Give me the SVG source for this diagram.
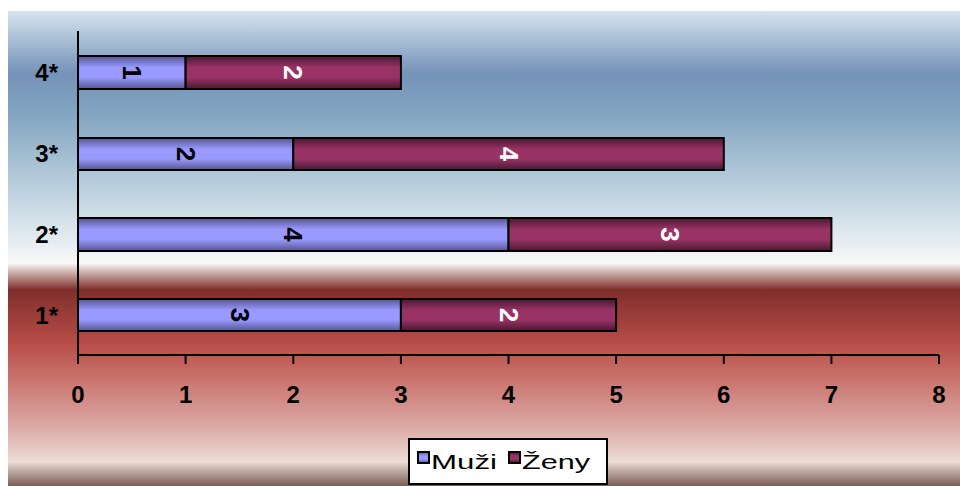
<svg xmlns="http://www.w3.org/2000/svg" width="960" height="486" viewBox="0 0 960 486">
<defs>
<linearGradient id="bg" x1="0" y1="0" x2="0" y2="1">
<stop offset="0" stop-color="#d6e4f0"/>
<stop offset="0.131" stop-color="#7592b8"/>
<stop offset="0.208" stop-color="#80a3c0"/>
<stop offset="0.349" stop-color="#b2c9d9"/>
<stop offset="0.488" stop-color="#e6edf2"/>
<stop offset="0.531" stop-color="#f8f8f8"/>
<stop offset="0.548" stop-color="#d2b8b4"/>
<stop offset="0.587" stop-color="#7f2e2b"/>
<stop offset="0.699" stop-color="#b84d48"/>
<stop offset="0.771" stop-color="#c9716b"/>
<stop offset="0.876" stop-color="#dcaaa5"/>
<stop offset="0.949" stop-color="#ecdcd5"/>
<stop offset="0.966" stop-color="#c4b0a9"/>
<stop offset="1" stop-color="#7a5c55"/>
</linearGradient>
<linearGradient id="gBlue" x1="0" y1="0" x2="0" y2="1">
<stop offset="0" stop-color="#55558f"/>
<stop offset="0.35" stop-color="#9999ff"/>
<stop offset="0.65" stop-color="#9999ff"/>
<stop offset="1" stop-color="#55558f"/>
</linearGradient>
<linearGradient id="gRed" x1="0" y1="0" x2="0" y2="1">
<stop offset="0" stop-color="#4a1830"/>
<stop offset="0.35" stop-color="#993366"/>
<stop offset="0.65" stop-color="#993366"/>
<stop offset="1" stop-color="#4a1830"/>
</linearGradient>
<style>
.blue{fill:url(#gBlue);stroke:#000;stroke-width:2}
.red{fill:url(#gRed);stroke:#000;stroke-width:2}
.ax{stroke:#000;stroke-width:2;fill:none}
.tk{font-family:"Liberation Sans",Arial,sans-serif;font-weight:bold;font-size:24px;fill:#000;text-anchor:middle}
.cat{font-family:"Liberation Sans",Arial,sans-serif;font-weight:bold;font-size:24px;fill:#000;text-anchor:end}
.vl{font-family:"Liberation Sans",Arial,sans-serif;font-weight:bold;font-size:26px;text-anchor:middle;dominant-baseline:central}
.lg{font-family:"Liberation Sans",Arial,sans-serif;font-size:21px;fill:#000}
</style>
</defs>
<rect x="0" y="0" width="960" height="486" fill="#ffffff"/>
<rect x="8" y="11" width="952" height="475" fill="url(#bg)"/>

<g id="axes">
<path class="ax" d="M78,31 V364 M78,355 H939 M185.6,355 V364 M293.3,355 V364 M400.9,355 V364 M508.5,355 V364 M616.1,355 V364 M723.8,355 V364 M831.4,355 V364 M939,355 V364"/>
<text class="tk" x="78" y="403">0</text>
<text class="tk" x="185.6" y="403">1</text>
<text class="tk" x="293.3" y="403">2</text>
<text class="tk" x="400.9" y="403">3</text>
<text class="tk" x="508.5" y="403">4</text>
<text class="tk" x="616.1" y="403">5</text>
<text class="tk" x="723.8" y="403">6</text>
<text class="tk" x="831.4" y="403">7</text>
<text class="tk" x="939" y="403">8</text>
<text class="cat" x="58" y="81">4*</text>
<text class="cat" x="58" y="162">3*</text>
<text class="cat" x="58" y="243">2*</text>
<text class="cat" x="58" y="324">1*</text>
</g>

<g id="bar-4">
<rect class="blue" x="78" y="56" width="107.6" height="33"/>
<rect class="red" x="185.6" y="56" width="215.3" height="33"/>
<text class="vl" fill="#000" transform="translate(131.8,72.5) rotate(90)">1</text>
<text class="vl" fill="#fff" transform="translate(293.3,72.5) rotate(90)">2</text>
</g>
<g id="bar-3">
<rect class="blue" x="78" y="138" width="215.3" height="32"/>
<rect class="red" x="293.3" y="138" width="430.5" height="32"/>
<text class="vl" fill="#000" transform="translate(185.6,154) rotate(90)">2</text>
<text class="vl" fill="#fff" transform="translate(508.5,154) rotate(90)">4</text>
</g>
<g id="bar-2">
<rect class="blue" x="78" y="218" width="430.5" height="33"/>
<rect class="red" x="508.5" y="218" width="322.9" height="33"/>
<text class="vl" fill="#000" transform="translate(293.3,234.5) rotate(90)">4</text>
<text class="vl" fill="#fff" transform="translate(670,234.5) rotate(90)">3</text>
</g>
<g id="bar-1">
<rect class="blue" x="78" y="299" width="322.9" height="32"/>
<rect class="red" x="400.9" y="299" width="215.2" height="32"/>
<text class="vl" fill="#000" transform="translate(239.5,315) rotate(90)">3</text>
<text class="vl" fill="#fff" transform="translate(508.5,315) rotate(90)">2</text>
</g>

<g id="legend">
<rect x="409" y="439" width="198" height="45" fill="#fff" stroke="#000" stroke-width="2"/>
<rect class="blue" x="418" y="452" width="11" height="11" stroke-width="1.5"/>
<text class="lg" x="431" y="469" textLength="66" lengthAdjust="spacingAndGlyphs">Muži</text>
<rect class="red" x="509" y="452" width="11" height="11" stroke-width="1.5"/>
<text class="lg" x="522" y="469" textLength="68" lengthAdjust="spacingAndGlyphs">Ženy</text>
</g>
</svg>
